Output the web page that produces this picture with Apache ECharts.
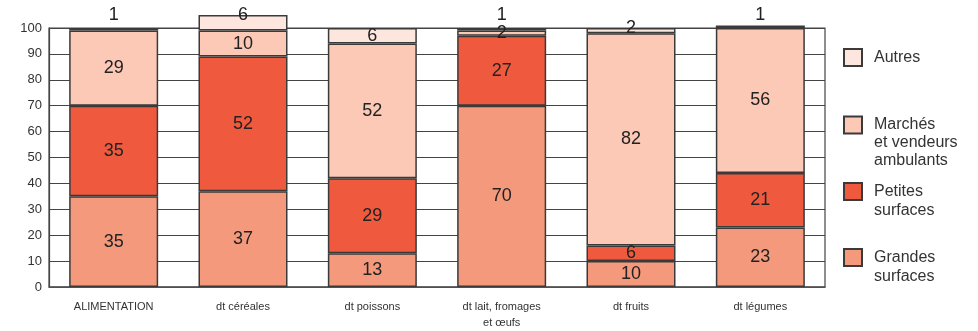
<!DOCTYPE html>
<html>
<head>
<meta charset="utf-8">
<script src="https://cdn.jsdelivr.net/npm/echarts@6/dist/echarts.min.js"></script>
<style>
  html, body { margin: 0; padding: 0; background: #ffffff; }
  #chart { width: 978px; height: 331px; }
</style>
</head>
<body>
<div id="chart"></div>
<script>
// Categories (x axis)
const categories = ['ALIMENTATION', 'dt céréales', 'dt poissons', 'dt lait, fromages\net œufs', 'dt fruits', 'dt légumes'];

// Share of purchases by place of purchase (%)
const grandesSurfaces = [35, 37, 13, 70, 10, 23];
const petitesSurfaces = [35, 52, 29, 27, 6, 21];
const marches = [29, 10, 52, 2, 82, 56];
const autres = [1, 6, 6, 1, 2, 1];

// Series names
const seriesNames = ['Grandes\nsurfaces', 'Petites\nsurfaces', 'Marchés\net vendeurs\nambulants', 'Autres'];

const FONT = "'Liberation Sans', Arial, Helvetica, sans-serif";
const colors = ['#f4997b', '#ef5a3f', '#fbc9b5', '#fde6dd'];
const edge = '#3a3a3a';

const chart = echarts.init(document.getElementById('chart'), null, { renderer: 'canvas' });

const labelBase = {
  show: true,
  position: 'inside',
  color: '#222',
  fontSize: 18,
  fontFamily: FONT
};

function makeSeries(name, values, color, extra) {
  return Object.assign({
    name: name,
    type: 'bar',
    stack: 'total',
    barWidth: 89,
    data: values,
    itemStyle: { color: color, borderColor: edge, borderWidth: 1.5 },
    label: labelBase,
    emphasis: { disabled: true }
  }, extra || {});
}

// Top segment: thin slices carry their label above the bar,
// slices that run past the 100 % line keep it near the top line.
const lowerTotals = categories.map((_, i) => grandesSurfaces[i] + petitesSurfaces[i] + marches[i]);
const autresData = autres.map((v, i) => {
  const top = lowerTotals[i] + v;
  if (top > 100 && v > 1) {
    return { value: v, label: { position: 'inside', offset: [0, -8] } };
  }
  if (v <= 1) {
    return { value: v, label: { position: 'top', distance: Math.max(0, 4 - (top - 100) * 2.6) } };
  }
  return { value: v, label: { position: 'inside', offset: [0, v <= 2 ? -3 : 0] } };
});

// Legend entries: the swatch sits beside the first line of each name
function legendFor(name, top, lines, lineHeight) {
  return {
    orient: 'vertical',
    left: 843,
    top: top,
    padding: 0,
    itemWidth: 18,
    itemHeight: 17,
    icon: 'rect',
    selectedMode: false,
    data: [name],
    formatter: (n) => '\n'.repeat(lines - 1) + n,
    textStyle: {
      fontFamily: FONT,
      fontSize: 16,
      color: '#333',
      lineHeight: lineHeight,
      padding: [0, 0, 0, 7]
    }
  };
}

const option = {
  backgroundColor: '#ffffff',
  animation: false,
  textStyle: { fontFamily: FONT },
  grid: {
    left: 49,
    right: 153,
    top: 28,
    bottom: 39,
    show: true,
    borderColor: '#444',
    borderWidth: 1.2,
    backgroundColor: 'transparent'
  },
  legend: [
    legendFor(seriesNames[3], 48, 1, 18),
    legendFor(seriesNames[2], 80, 3, 18),
    legendFor(seriesNames[1], 163, 2, 19),
    legendFor(seriesNames[0], 229, 2, 19)
  ],
  xAxis: {
    type: 'category',
    data: categories,
    axisLine: { show: true, lineStyle: { color: '#555', width: 1.5 } },
    axisTick: { show: false },
    axisLabel: {
      color: '#333',
      fontSize: 11,
      fontFamily: FONT,
      margin: 12,
      lineHeight: 16,
      interval: 0
    }
  },
  yAxis: {
    type: 'value',
    min: 0,
    max: 100,
    interval: 10,
    axisLine: { show: true, lineStyle: { color: '#444', width: 1.2 } },
    axisTick: { show: false },
    axisLabel: { color: '#333', fontSize: 13, fontFamily: FONT, margin: 7 },
    splitLine: { show: true, lineStyle: { color: '#444', width: 1.2 } }
  },
  series: [
    makeSeries(seriesNames[0], grandesSurfaces, colors[0]),
    makeSeries(seriesNames[1], petitesSurfaces, colors[1]),
    makeSeries(seriesNames[2], marches, colors[2]),
    makeSeries(seriesNames[3], autresData, colors[3], { clip: false })
  ]
};

chart.setOption(option);
</script>
</body>
</html>
